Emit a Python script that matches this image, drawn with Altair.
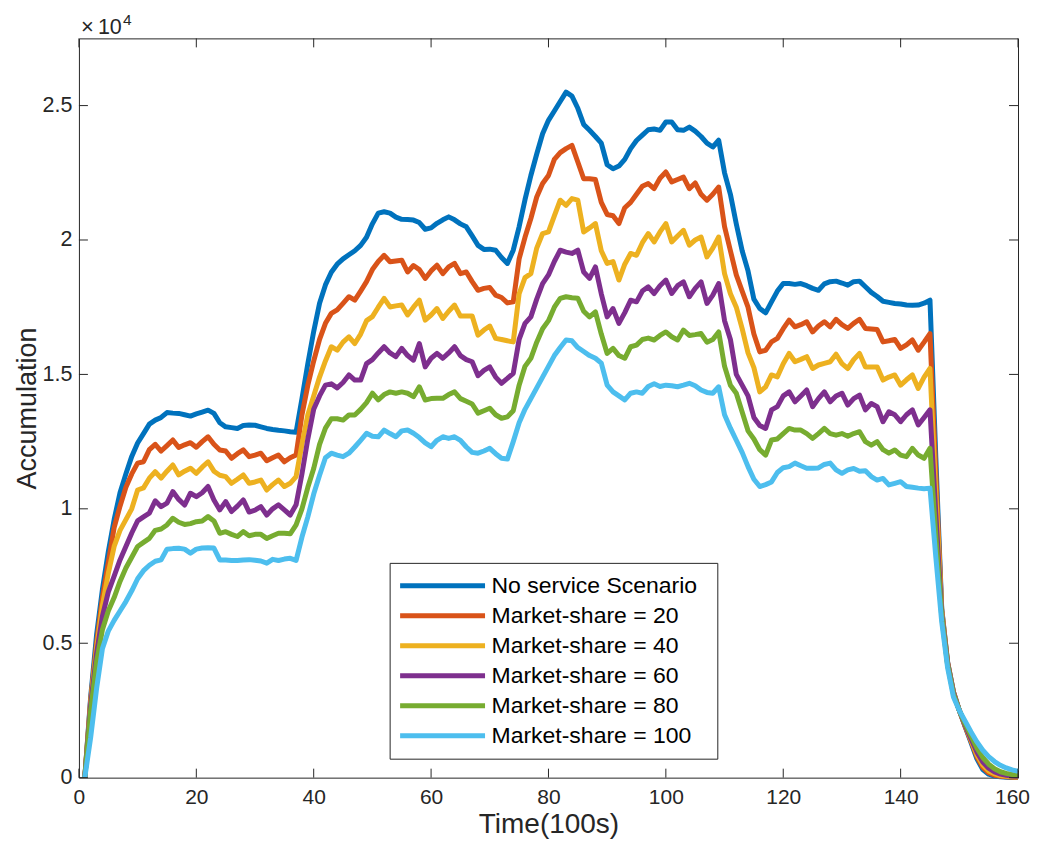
import altair as alt
import pandas as pd

# ---------------- data ----------------
time = list(range(1, 161))

no_service = [
    0, 3000, 5300, 7000, 8400, 9600, 10600, 11300, 11950, 12450,
    12800, 13150, 13300, 13400, 13580, 13560, 13550, 13500, 13450, 13530,
    13600, 13670, 13550, 13200, 13050, 13020, 12990, 13100, 13120, 13110,
    13050, 12990, 12950, 12920, 12900, 12870, 12850, 14100, 15400, 16600,
    17650, 18330, 18800, 19100, 19300, 19450, 19600, 19800, 20100, 20600,
    21000, 21050, 21000, 20850, 20770, 20760, 20740, 20650, 20400, 20450,
    20620, 20750, 20860, 20750, 20600, 20490, 20150, 19800, 19650, 19660,
    19620, 19350, 19130, 19620, 20490, 21500, 22400, 23200, 23950, 24450,
    24800, 25150, 25500, 25350, 24900, 24300, 24080, 23850, 23600, 22800,
    22650, 22750, 23000, 23400, 23700, 23900, 24100, 24130, 24080, 24390,
    24390, 24100, 24080, 24200, 24050, 23850, 23600, 23460, 23710, 22500,
    21700, 20600, 19600, 18850, 17800, 17450, 17290, 17700, 18100, 18380,
    18380, 18350, 18380, 18300, 18200, 18130, 18370, 18450, 18470, 18400,
    18320, 18450, 18470, 18260, 18050, 17900, 17720, 17680, 17640, 17620,
    17580, 17570, 17580, 17650, 17760, 11900, 6300, 4300, 3200, 2500,
    1900, 1300, 700, 300, 130, 60, 30, 15, 8, 5,
]

ms20 = [
    0, 2900, 5000, 6700, 8000, 9300, 10100, 10800, 11300, 11700,
    11750, 12200, 12400, 12150, 12350, 12560, 12280, 12380, 12460, 12290,
    12500, 12680, 12400, 12190, 12150, 11880, 12050, 12190, 11940, 12000,
    12070, 11790, 11900, 12000, 11750, 11900, 12000, 13500, 14600, 15500,
    16300, 16900, 17270, 17400, 17640, 17890, 17760, 18100, 18450, 18900,
    19200, 19430, 19190, 19220, 19250, 18810, 19050, 18900, 18570, 18850,
    19060, 18750, 19000, 19130, 18750, 18810, 18450, 18130, 18200, 18230,
    17950, 17860, 17660, 17700, 19300, 20100, 20800, 21600, 22100, 22400,
    23000, 23250, 23400, 23520, 22900, 22280, 22280, 22250, 21400, 20950,
    20900, 20610, 21200, 21400, 21700, 22000, 22100, 21910, 22300, 22530,
    22160, 22250, 22340, 21910, 22120, 21700, 21480, 21700, 21970, 20500,
    19600, 18700, 18100, 17500, 16500, 15840, 15900, 16210, 16340, 16700,
    17020, 16770, 16850, 16960, 16580, 16800, 16960, 16770, 17050, 16850,
    16710, 16900, 17050, 16710, 16690, 16670, 16210, 16250, 16300, 15970,
    16100, 16280, 15900, 16200, 16520, 11300, 6250, 4300, 3200, 2500,
    1900, 1350, 780, 380, 180, 90, 50, 30, 18, 12,
]

ms40 = [
    0, 2800, 4800, 6400, 7600, 8600, 9200, 9600, 10000, 10700,
    10780, 11140, 11380, 11140, 11400, 11630, 11260, 11400, 11510, 11320,
    11550, 11750, 11400, 11250, 11200, 10950, 11100, 11260, 10950, 11000,
    11070, 10700, 10900, 11070, 10830, 10950, 11200, 12400, 13500, 14200,
    14900, 15500, 16030, 15900, 16200, 16400, 16150, 16500, 17000, 17150,
    17500, 17830, 17510, 17550, 17580, 17210, 17500, 17760, 17020, 17210,
    17450, 17080, 17350, 17580, 17170, 17170, 17170, 16460, 16650, 16800,
    16340, 16300, 16250, 16210, 18000, 18600, 18750, 19700, 20240, 20300,
    20900, 21480, 21290, 21540, 21480, 20300, 20450, 20610, 19600, 19130,
    19200, 18510, 19100, 19500, 19430, 19900, 20240, 19930, 20300, 20610,
    19930, 20150, 20360, 19810, 20000, 20110, 19370, 19700, 20110, 18750,
    18000, 17500, 16700, 15800, 15250, 14350, 14540, 14980, 14910, 15400,
    15780, 15470, 15560, 15660, 15220, 15350, 15410, 15470, 15750, 15400,
    15220, 15550, 15780, 15280, 15280, 15280, 14790, 14900, 14980, 14600,
    14800, 14980, 14480, 14900, 15220, 10600, 6200, 4250, 3150, 2500,
    1950, 1400, 850, 470, 250, 140, 80, 50, 30, 25,
]

ms60 = [
    0, 2700, 4600, 6000, 6900, 7500, 8100, 8600, 9100, 9550,
    9700, 9840, 10300, 10080, 10210, 10640, 10350, 10140, 10580, 10450,
    10600, 10830, 10330, 9960, 10270, 9900, 10100, 10330, 9880, 9950,
    10080, 9770, 10000, 10150, 9960, 9770, 10150, 11300, 12600, 13700,
    14200, 14600, 14650, 14500, 14700, 14980, 14790, 14790, 15400, 15550,
    15800, 16030, 15800, 15660, 15970, 15700, 15530, 16150, 15280, 15600,
    15780, 15600, 15800, 16030, 15700, 15550, 15470, 14950, 15150, 15280,
    14900, 14670, 14850, 15040, 16300, 16900, 17140, 17800, 18380, 18700,
    19200, 19620, 19550, 19500, 19620, 18810, 18570, 19000, 18000, 17140,
    17450, 16900, 17300, 17760, 17700, 18100, 18260, 18010, 18300, 18510,
    18010, 18300, 18440, 17890, 18200, 18440, 17640, 17950, 18380, 17000,
    16300, 15000, 14600, 14200, 13400, 13100, 12990, 13680, 13800, 14200,
    14350, 13980, 14200, 14420, 13800, 14100, 14350, 13980, 14200, 14300,
    13860, 14100, 14230, 13680, 13920, 13800, 13240, 13610, 13500, 13240,
    13500, 13680, 13120, 13400, 13680, 9800, 6100, 4250, 3150, 2500,
    1950, 1450, 950, 580, 350, 210, 130, 90, 60, 50,
]

ms80 = [
    0, 2500, 4300, 5500, 6200, 6700, 7300, 7800, 8200, 8600,
    8750, 8900, 9200, 9250, 9400, 9650, 9500, 9420, 9450, 9520,
    9550, 9710, 9550, 9090, 9150, 9050, 8970, 9150, 9000, 9050,
    9050, 8900, 9000, 9090, 9090, 9070, 9400, 10000, 10800, 11500,
    12400, 13000, 13350, 13350, 13300, 13490, 13490, 13700, 13950, 14300,
    14050, 14250, 14350, 14300, 14350, 14300, 14170, 14540, 14050, 14100,
    14110, 14110, 14250, 14350, 14100, 14000, 13900, 13560, 13650, 13740,
    13500, 13370, 13420, 13650, 14600, 15300, 15600, 16200, 16700, 17000,
    17500, 17830, 17890, 17850, 17830, 17350, 17140, 17330, 16500, 15780,
    15970, 15700, 15600, 16030, 16090, 16300, 16350, 16280, 16450, 16580,
    16400, 16280, 16650, 16450, 16480, 16520, 16200, 16300, 16580, 15300,
    14600, 14300, 13600, 12900, 12600, 12200, 12000, 12560, 12600, 12800,
    12990, 12930, 12930, 12800, 12620, 12800, 12990, 12800, 12740, 12800,
    12700, 12800, 12870, 12500, 12370, 12500, 12200, 12070, 12190, 12000,
    11940, 12250, 12000, 11880, 12250, 9000, 6000, 4200, 3100, 2500,
    2000, 1550, 1100, 750, 500, 330, 220, 160, 120, 100,
]

ms100 = [
    0, 1500, 3300, 4800, 5450, 5850, 6200, 6550, 6950, 7400,
    7700, 7900, 8050, 8100, 8500, 8520, 8530, 8500, 8350, 8500,
    8540, 8550, 8540, 8100, 8100, 8080, 8080, 8100, 8110, 8090,
    8060, 7980, 8120, 8080, 8130, 8160, 8080, 8950, 9700, 10550,
    11250, 11900, 12070, 12000, 11940, 12070, 12300, 12550, 12810, 12700,
    12680, 12930, 12800, 12680, 12900, 12930, 12810, 12650, 12450, 12310,
    12550, 12680, 12620, 12680, 12550, 12300, 12100, 12070, 12150, 12250,
    12050, 11880, 11850, 12500, 13200, 13700, 14100, 14500, 14900, 15300,
    15700, 16000, 16280, 16250, 16000, 15850, 15700, 15600, 15420, 14600,
    14350, 14200, 14050, 14300, 14350, 14300, 14550, 14650, 14550, 14600,
    14580, 14540, 14600, 14670, 14580, 14420, 14330, 14300, 14540, 13500,
    13000, 12550, 12100, 11570, 11100, 10830, 10900, 11000, 11350, 11530,
    11570, 11700, 11600, 11510, 11510, 11520, 11650, 11700, 11450, 11320,
    11450, 11500, 11400, 11420, 11200, 11070, 11130, 10890, 10950, 11010,
    10830, 10800, 10770, 10750, 10770, 8200, 5800, 4100, 3000, 2500,
    2100, 1700, 1330, 1020, 780, 600, 460, 360, 290, 240,
]

series_names = [
    "No service Scenario",
    "Market-share = 20",
    "Market-share = 40",
    "Market-share = 60",
    "Market-share = 80",
    "Market-share = 100",
]
series_colors = ["#0072BD", "#D95319", "#EDB120", "#7E2F8E", "#77AC30", "#4DBEEE"]
series_values = [no_service, ms20, ms40, ms60, ms80, ms100]

x_ticks = [0, 20, 40, 60, 80, 100, 120, 140, 160]
y_ticks = [0, 5000, 10000, 15000, 20000, 25000]

# ---------------- build table ----------------
rows = []
for name, vals in zip(series_names, series_values):
    assert len(vals) == len(time), name
    for t, v in zip(time, vals):
        rows.append({"t": t, "value": v, "series": name})
df = pd.DataFrame(rows)

W, H = 940, 740
FONT = "Liberation Sans"
AX = "#262626"
TICK = 9
LW = 5

x_scale = alt.Scale(domain=[0, 160], nice=False, zero=False)
y_scale = alt.Scale(domain=[0, 27500], nice=False, zero=False)

x_axis = alt.Axis(
    values=x_ticks, title="Time(100s)", ticks=False, domain=False, grid=False,
    labelFont=FONT, labelFontSize=21, labelColor=AX, labelPadding=9,
    labelFlush=False,
    labelOffset={"condition": {"test": "datum.value === 160", "value": -6}, "value": 0},
    titleFont=FONT, titleFontSize=28, titleColor=AX,
    titleFontWeight="normal", titlePadding=3,
)
y_axis = alt.Axis(
    values=y_ticks, labelExpr="'' + datum.value / 10000", title="Accumulation",
    ticks=False, domain=False, grid=False,
    labelFont=FONT, labelFontSize=21.5, labelColor=AX, labelPadding=7,
    labelFlush=False, titleFont=FONT, titleFontSize=27, titleColor=AX,
    titleFontWeight="normal", titlePadding=1,
)

lines = alt.Chart(df).mark_line(strokeWidth=LW, strokeJoin="round").encode(
    x=alt.X("t:Q", scale=x_scale, axis=x_axis, title="Time(100s)"),
    y=alt.Y("value:Q", scale=y_scale, axis=y_axis, title="Accumulation"),
    color=alt.Color(
        "series:N",
        scale=alt.Scale(domain=series_names, range=series_colors),
        legend=alt.Legend(
            title="\u00a0", titleOrient="right", titleFontSize=23, titlePadding=12,
            orient="none", legendX=311, legendY=525,
            symbolType="stroke", symbolSize=7225, symbolStrokeWidth=LW,
            clipHeight=30, rowPadding=0, labelOffset=4, symbolOffset=0,
            labelFont=FONT, labelFontSize=23, labelColor="#000000", labelLimit=400,
            padding=8, strokeColor=AX, fillColor="#ffffff",
        ),
    ),
)

xt = pd.DataFrame({"t": x_ticks})
yt = pd.DataFrame({"value": y_ticks})

bottom_ticks = alt.Chart(xt).mark_rule(color=AX, strokeWidth=1).encode(
    x=alt.X("t:Q", scale=x_scale, axis=x_axis, title="Time(100s)"),
    y=alt.value(H), y2=alt.value(H - TICK),
)
top_ticks = alt.Chart(xt).mark_rule(color=AX, strokeWidth=1).encode(
    x=alt.X("t:Q", scale=x_scale, axis=x_axis, title="Time(100s)"),
    y=alt.value(0), y2=alt.value(TICK),
)
left_ticks = alt.Chart(yt).mark_rule(color=AX, strokeWidth=1).encode(
    y=alt.Y("value:Q", scale=y_scale, axis=y_axis, title="Accumulation"),
    x=alt.value(0), x2=alt.value(TICK),
)
right_ticks = alt.Chart(yt).mark_rule(color=AX, strokeWidth=1).encode(
    y=alt.Y("value:Q", scale=y_scale, axis=y_axis, title="Accumulation"),
    x=alt.value(W), x2=alt.value(W - TICK),
)

exp_times = alt.Chart(pd.DataFrame({"s": ["\u00d7"]})).mark_text(
    font=FONT, fontSize=22, color=AX, align="left", baseline="alphabetic"
).encode(text="s:N", x=alt.value(2), y=alt.value(-4.7))
exp_base = alt.Chart(pd.DataFrame({"s": ["10"]})).mark_text(
    font=FONT, fontSize=21.5, color=AX, align="left", baseline="alphabetic"
).encode(text="s:N", x=alt.value(19), y=alt.value(-4.7))
exp_pow = alt.Chart(pd.DataFrame({"s": ["4"]})).mark_text(
    font=FONT, fontSize=15.5, color=AX, align="left", baseline="alphabetic"
).encode(text="s:N", x=alt.value(44), y=alt.value(-13))

chart = alt.layer(
    lines, bottom_ticks, top_ticks, left_ticks, right_ticks,
    exp_times, exp_base, exp_pow,
).properties(
    width=W, height=H,
    autosize=alt.AutoSizeParams(type="none"),
    padding={"left": 71, "top": 30, "right": 12, "bottom": 62},
    background="white",
).configure_view(stroke=AX, strokeWidth=1)

chart.save("out.html", embed_options={"renderer": "svg", "actions": False})
